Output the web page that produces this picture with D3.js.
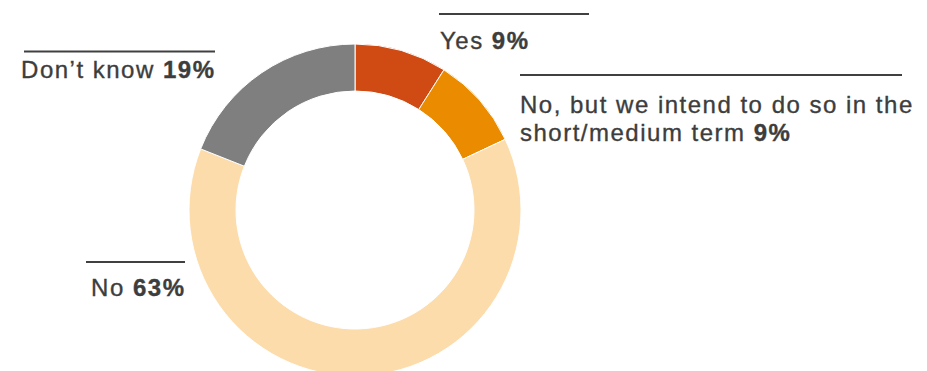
<!DOCTYPE html>
<html>
<head>
<meta charset="utf-8">
<script src="https://cdn.jsdelivr.net/npm/d3@7"></script>
<style>
  body { margin: 0; background: #fff; }
  svg { display: block; }
  text { font-family: "Liberation Sans", Arial, Helvetica, sans-serif; fill: #3d3d3d; stroke: #3d3d3d; stroke-width: 0.35px; }
</style>
</head>
<body>
<div id="chart"></div>
<script>
// data
const categories = ["Yes", "No, but we intend to do so in the short/medium term", "No", "Don’t know"];
const values = [9, 9, 63, 19];
const colors = ["#d04a14", "#eb8c00", "#fddcab", "#7f7f7f"];

// label layout (wrapped lines, line/anchor positions)
const labelLayout = [
    {lines: ["Yes"], x1: 439, x2: 589, ly: 14, tx: 440, ty: 49, anchor: "start"},
    {lines: ["No, but we intend to do so in the", "short/medium term"], x1: 520, x2: 902, ly: 75, tx: 520, ty: 112.5, anchor: "start"},
    {lines: ["No"], x1: 86, x2: 185, ly: 262, tx: 185.5, ty: 296, anchor: "end"},
    {lines: ["Don’t know"], x1: 24, x2: 215, ly: 51.5, tx: 215.5, ty: 78, anchor: "end"}
];

const width = 927, height = 371;
const cx = 355, cy = 210, outerR = 166, innerR = 119;
const lineHeight = 28.5;

const svg = d3.select("#chart")
    .append("svg")
    .attr("width", width)
    .attr("height", height);

const pie = d3.pie().sort(null).value(d => d);
const arc = d3.arc().innerRadius(innerR).outerRadius(outerR);

const g = svg.append("g")
    .attr("transform", `translate(${cx},${cy})`);

g.selectAll("path")
    .data(pie(values))
    .join("path")
    .attr("d", arc)
    .attr("fill", (d, i) => colors[i])
    .attr("stroke", "#fff")
    .attr("stroke-width", 1);

// labels
const labels = svg.selectAll(".label")
    .data(labelLayout)
    .join("g")
    .attr("class", "label");

labels.append("line")
    .attr("x1", d => d.x1)
    .attr("x2", d => d.x2)
    .attr("y1", d => d.ly)
    .attr("y2", d => d.ly)
    .attr("stroke", "#404040")
    .attr("stroke-width", 2);

labels.each(function (d, i) {
    const t = d3.select(this).append("text")
        .attr("x", d.tx)
        .attr("y", d.ty)
        .attr("text-anchor", d.anchor)
        .style("font-size", "24px")
        .style("letter-spacing", "1.5px");
    d.lines.forEach((ln, j) => {
        const last = j === d.lines.length - 1;
        t.append("tspan")
            .attr("x", d.tx)
            .attr("dy", j === 0 ? 0 : lineHeight)
            .text(last ? ln + " " : ln);
        if (last) {
            t.append("tspan")
                .style("font-weight", "bold")
                .text(values[i] + "%");
        }
    });
});
</script>
</body>
</html>
